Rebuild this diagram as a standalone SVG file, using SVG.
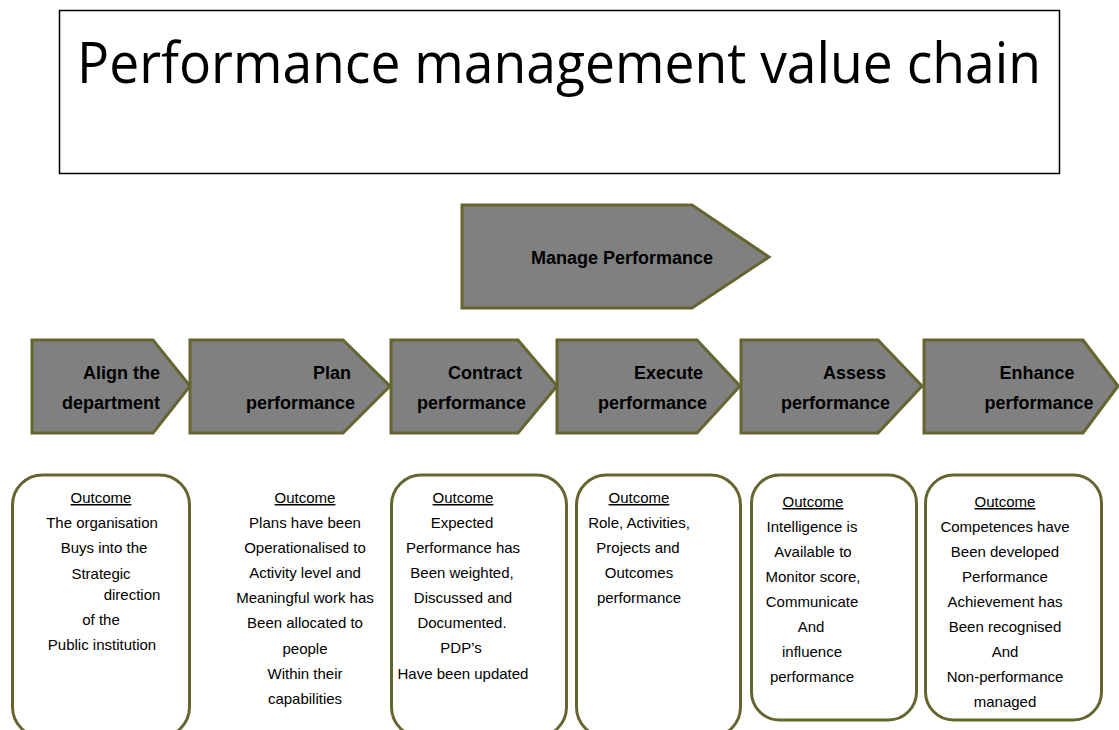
<svg xmlns="http://www.w3.org/2000/svg" width="1119" height="730" viewBox="0 0 1119 730">
  <style>
    .title { font-family: "Open Sans", "Liberation Sans", sans-serif; font-size: 56px; fill: #000; }
    .step { fill: #808080; stroke: #65652f; stroke-width: 3; stroke-linejoin: miter; }
    .lbl { font-family: "Liberation Sans", Arial, sans-serif; font-size: 18px; font-weight: bold; fill: #000; }
    .box { fill: #fff; stroke: #65652f; stroke-width: 3; }
    .txt { font-family: "Liberation Sans", Arial, sans-serif; font-size: 15px; fill: #000; text-anchor: middle; }
    .hd { text-decoration: underline; }
  </style>

  <!-- heading -->
  <g id="title">
    <rect x="59.5" y="10.5" width="1000" height="163" fill="#fff" stroke="#000" stroke-width="1.5"/>
    <text class="title" x="559" y="83" text-anchor="middle" textLength="964" lengthAdjust="spacingAndGlyphs">Performance management value chain</text>
  </g>

  <!-- overarching step -->
  <g id="manage">
    <polygon class="step" points="462,205 692,205 769,257 692,308 462,308"/>
    <text class="lbl" x="531" y="264">Manage Performance</text>
  </g>

  <!-- value chain steps -->
  <g id="align">
    <polygon class="step" points="32,340 153,340 190,386 153,433 32,433"/>
    <text class="lbl" x="160" y="379" text-anchor="end">Align the</text>
    <text class="lbl" x="160" y="409" text-anchor="end">department</text>
  </g>
  <g id="plan">
    <polygon class="step" points="190,340 343,340 390,386 343,433 190,433"/>
    <text class="lbl" x="351" y="379" text-anchor="end">Plan</text>
    <text class="lbl" x="355" y="409" text-anchor="end">performance</text>
  </g>
  <g id="contract">
    <polygon class="step" points="391,340 518,340 557,386 518,433 391,433"/>
    <text class="lbl" x="522" y="379" text-anchor="end">Contract</text>
    <text class="lbl" x="526" y="409" text-anchor="end">performance</text>
  </g>
  <g id="execute">
    <polygon class="step" points="557,340 697,340 740,386 697,433 557,433"/>
    <text class="lbl" x="703" y="379" text-anchor="end">Execute</text>
    <text class="lbl" x="707" y="409" text-anchor="end">performance</text>
  </g>
  <g id="assess">
    <polygon class="step" points="741,340 878,340 922,386 878,433 741,433"/>
    <text class="lbl" x="886" y="379" text-anchor="end">Assess</text>
    <text class="lbl" x="890" y="409" text-anchor="end">performance</text>
  </g>
  <g id="enhance">
    <polygon class="step" points="924,340 1083,340 1118,386 1083,433 924,433"/>
    <text class="lbl" x="1037" y="379" text-anchor="middle">Enhance</text>
    <text class="lbl" x="1039" y="409" text-anchor="middle">performance</text>
  </g>

  <!-- outcomes -->
  <g id="outcome-align">
    <rect class="box" x="12.5" y="475" width="177" height="262" rx="30" ry="30"/>
    <text class="txt hd" x="101" y="503">Outcome</text>
    <text class="txt" x="102" y="528">The organisation</text>
    <text class="txt" x="104" y="553">Buys into the</text>
    <text class="txt" x="101" y="579">Strategic</text>
    <text class="txt" x="132" y="600">direction</text>
    <text class="txt" x="101" y="625">of the</text>
    <text class="txt" x="102" y="650">Public institution</text>
  </g>
  <g id="outcome-plan">
    <text class="txt hd" x="305" y="503">Outcome</text>
    <text class="txt" x="305" y="528">Plans have been</text>
    <text class="txt" x="305" y="553">Operationalised to</text>
    <text class="txt" x="305" y="578">Activity level and</text>
    <text class="txt" x="305" y="603">Meaningful work has</text>
    <text class="txt" x="305" y="628">Been allocated to</text>
    <text class="txt" x="305" y="654">people</text>
    <text class="txt" x="305" y="679">Within their</text>
    <text class="txt" x="305" y="704">capabilities</text>
  </g>
  <g id="outcome-contract">
    <rect class="box" x="391.5" y="475" width="175" height="262" rx="30" ry="30"/>
    <text class="txt hd" x="463" y="503">Outcome</text>
    <text class="txt" x="462" y="528">Expected</text>
    <text class="txt" x="463" y="553">Performance has</text>
    <text class="txt" x="462" y="578">Been weighted,</text>
    <text class="txt" x="463" y="603">Discussed and</text>
    <text class="txt" x="462" y="628">Documented.</text>
    <text class="txt" x="461" y="653">PDP’s</text>
    <text class="txt" x="463" y="679">Have been updated</text>
  </g>
  <g id="outcome-execute">
    <rect class="box" x="576.5" y="475" width="164" height="262" rx="30" ry="30"/>
    <text class="txt hd" x="639" y="503">Outcome</text>
    <text class="txt" x="639" y="528">Role, Activities,</text>
    <text class="txt" x="638" y="553">Projects and</text>
    <text class="txt" x="639" y="578">Outcomes</text>
    <text class="txt" x="639" y="603">performance</text>
  </g>
  <g id="outcome-assess">
    <rect class="box" x="751.5" y="475" width="165" height="245" rx="28" ry="28"/>
    <text class="txt hd" x="813" y="507">Outcome </text>
    <text class="txt" x="812" y="532">Intelligence is</text>
    <text class="txt" x="813" y="557">Available to</text>
    <text class="txt" x="813" y="582">Monitor score,</text>
    <text class="txt" x="812" y="607">Communicate</text>
    <text class="txt" x="811" y="632">And</text>
    <text class="txt" x="812" y="657">influence</text>
    <text class="txt" x="812" y="682">performance</text>
  </g>
  <g id="outcome-enhance">
    <rect class="box" x="925.5" y="475" width="176" height="245" rx="28" ry="28"/>
    <text class="txt hd" x="1005" y="507">Outcome</text>
    <text class="txt" x="1005" y="532">Competences have</text>
    <text class="txt" x="1005" y="557">Been developed</text>
    <text class="txt" x="1005" y="582">Performance</text>
    <text class="txt" x="1005" y="607">Achievement has</text>
    <text class="txt" x="1005" y="632">Been recognised</text>
    <text class="txt" x="1005" y="657">And</text>
    <text class="txt" x="1005" y="682">Non-performance</text>
    <text class="txt" x="1005" y="707">managed</text>
  </g>

  <!-- no connectors: the steps abut one another -->
  <g id="connectors"/>
</svg>
